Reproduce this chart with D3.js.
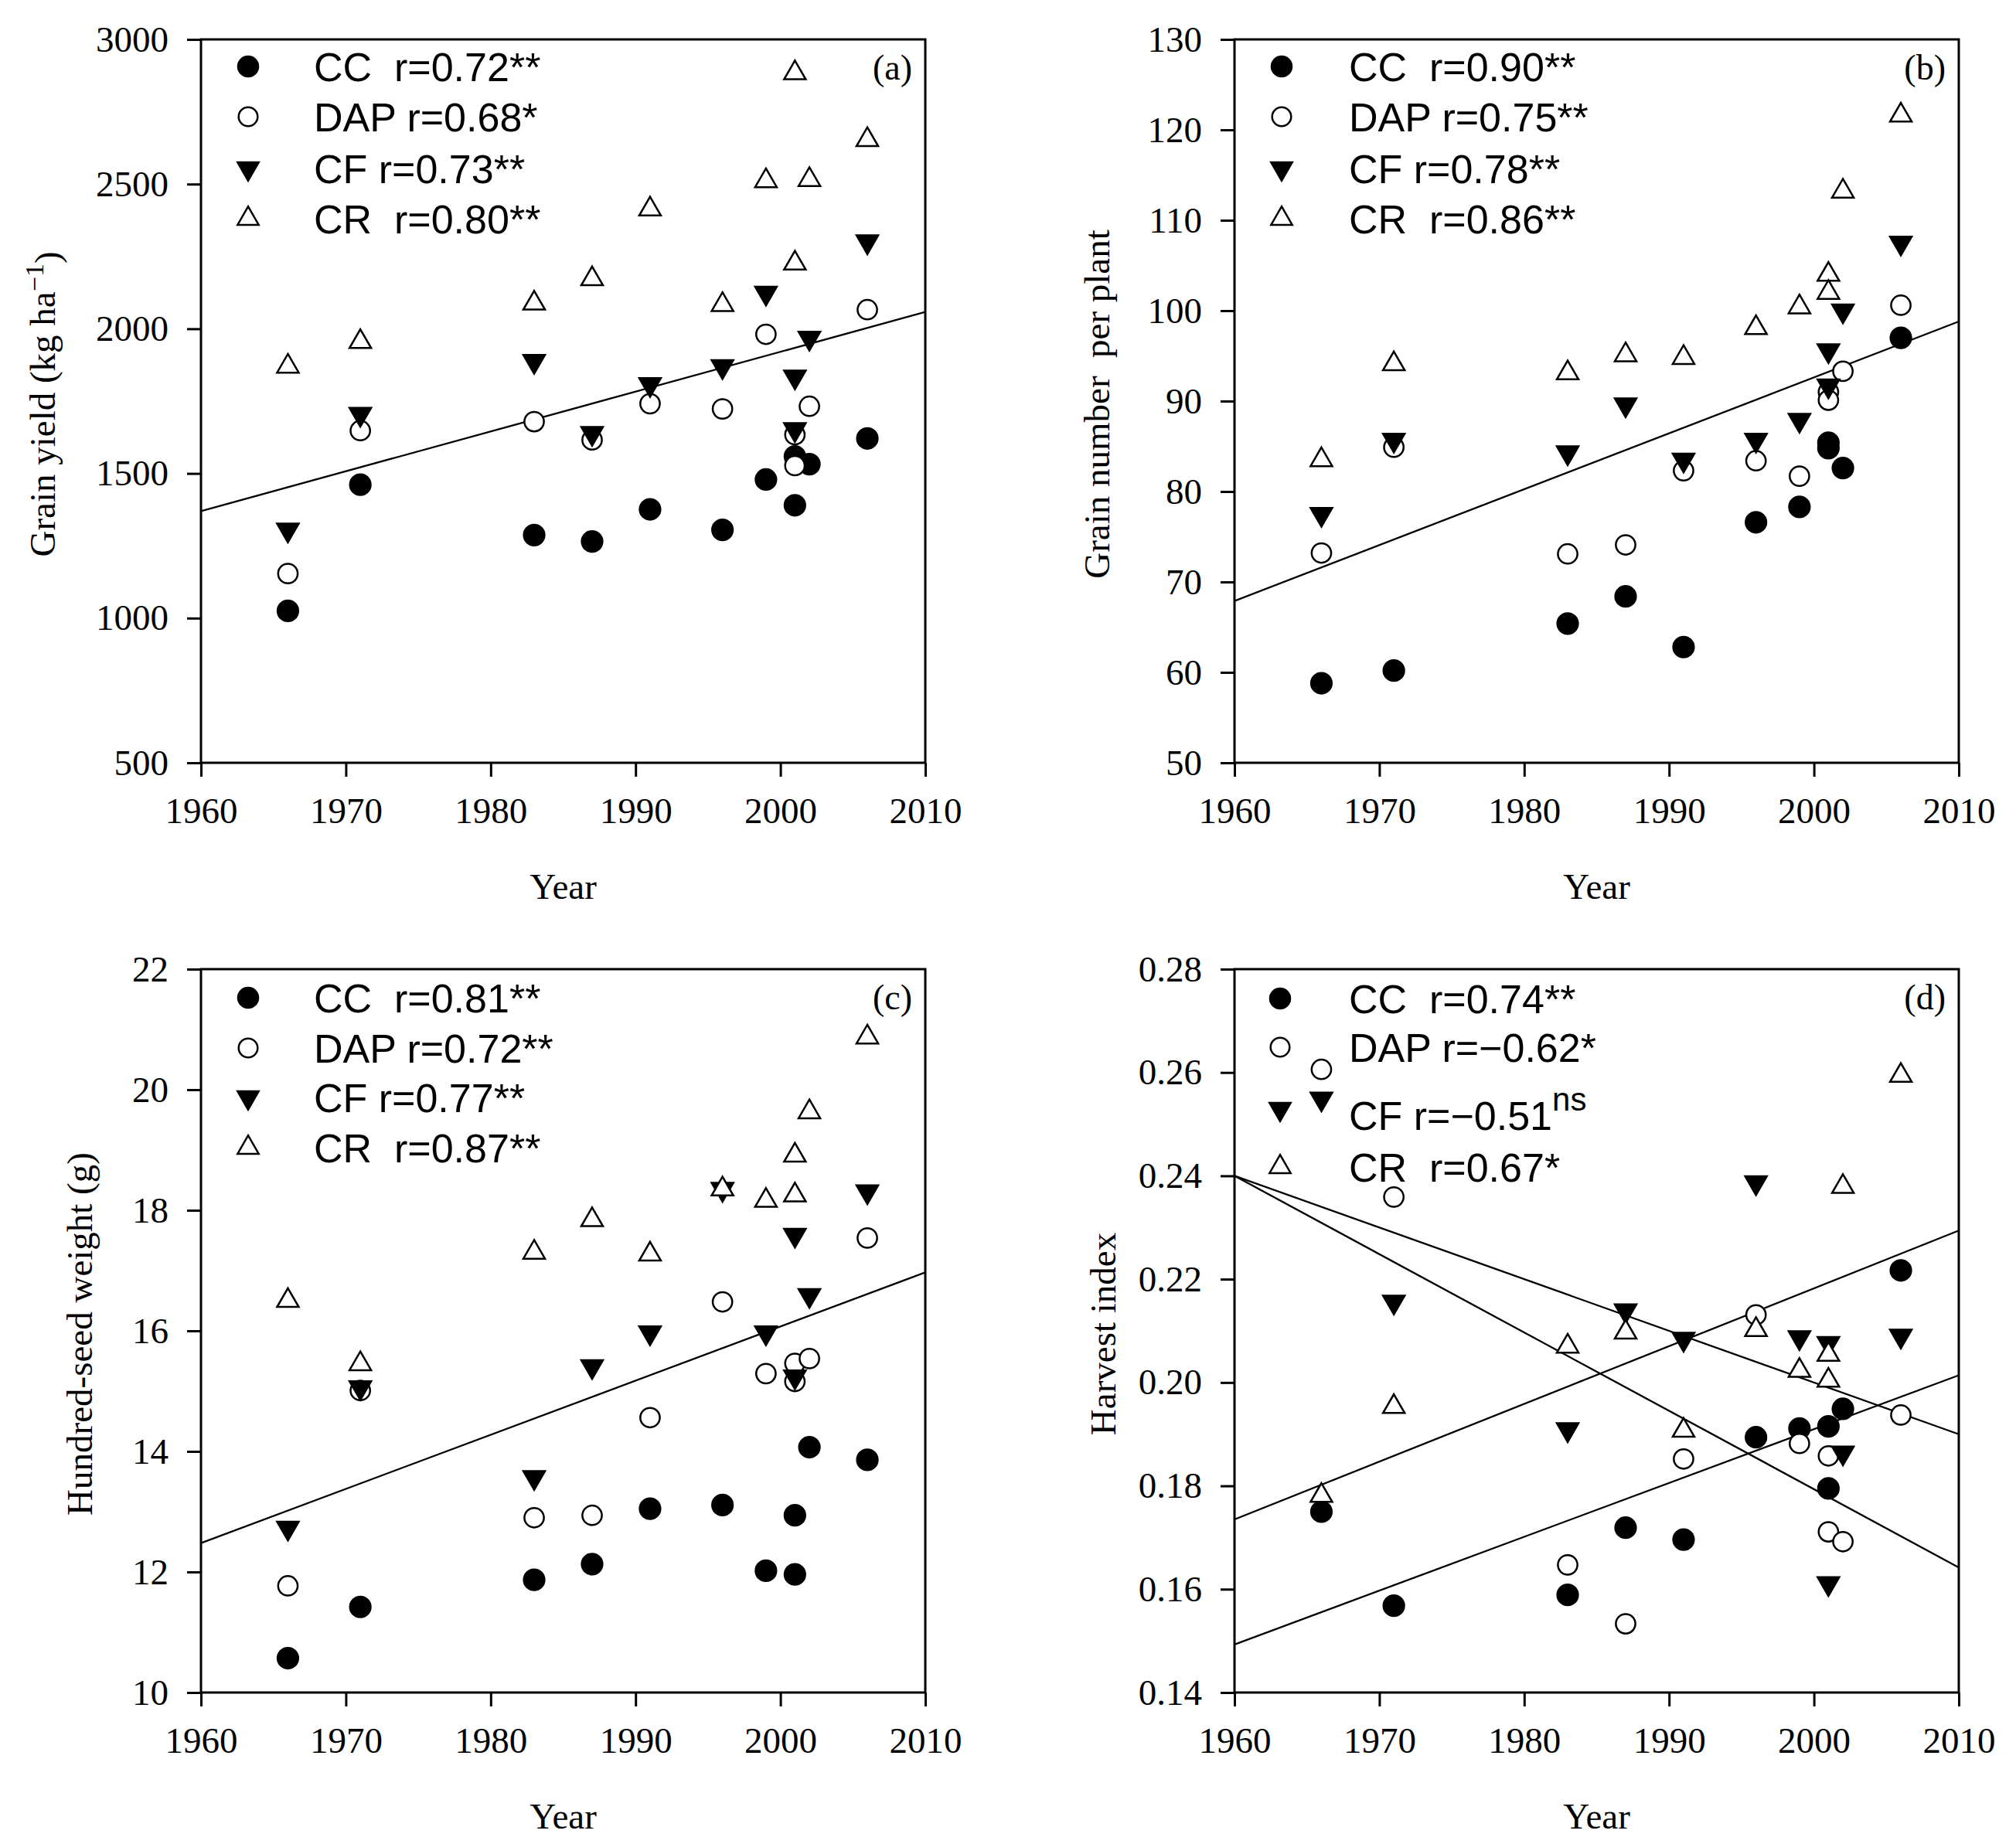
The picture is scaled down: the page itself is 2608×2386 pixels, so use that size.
<!DOCTYPE html>
<html>
<head>
<meta charset="utf-8">
<script src="https://cdn.jsdelivr.net/npm/d3@7"></script>
<style>
  body { margin: 0; background: #fff; }
  .tick text { font-family: "Liberation Serif", "Times New Roman", serif; font-size: 47px; fill: #000; }
  .tick line { stroke: #000; stroke-width: 3; }
</style>
</head>
<body>
<div class="chart"></div>
<script>
// cultivar release years (two cultivars from 2001)
const years = [1966, 1971, 1983, 1987, 1991, 1996, 1999, 2001, 2001, 2002, 2006];
const xTicks = [1960, 1970, 1980, 1990, 2000, 2010];

// (a) grain yield, kg/ha
const yieldCC  = [1025, 1461, 1287, 1265, 1376, 1305, 1479, 1559, 1390, 1532, 1621];
const yieldDAP = [1154, 1648, 1679, 1616, 1741, 1723, 1981, 1634, 1527, 1732, 2066];
const yieldCF  = [1305, 1705, 1888, 1639, 1808, 1870, 2124, 1834, 1652, 1968, 2301];
const yieldCR  = [1870, 1955, 2088, 2172, 2413, 2083, 2511, 2884, 2226, 2515, 2653];
const yieldTicks = [500, 1000, 1500, 2000, 2500, 3000];
const yieldTrend = [[1370, 2058]];
const yieldLegend = ["CC  r=0.72**", "DAP r=0.68*", "CF r=0.73**", "CR  r=0.80**"];

// (b) grain number per plant
const grainCC  = [58.8, 60.2, 65.4, 68.4, 62.8, 76.6, 78.3, 85.4, 84.8, 82.6, 97.0];
const grainDAP = [73.2, 84.9, 73.1, 74.1, 82.3, 83.4, 81.7, 91.0, 90.1, 93.3, 100.6];
const grainCF  = [77.5, 85.7, 84.3, 89.6, 83.5, 85.7, 87.9, 95.6, 91.7, 100.0, 107.5];
const grainCR  = [83.5, 94.1, 93.1, 95.1, 94.8, 98.1, 100.4, 104.0, 102.0, 113.2, 121.6];
const grainTicks = [50, 60, 70, 80, 90, 100, 110, 120, 130];
const grainTrend = [[67.9, 98.8]];
const grainLegend = ["CC  r=0.90**", "DAP r=0.75**", "CF r=0.78**", "CR  r=0.86**"];

// (c) hundred-seed weight, g
const seedCC  = [10.57, 11.42, 11.87, 12.13, 13.05, 13.11, 12.02, 12.94, 11.96, 14.07, 13.86];
const seedDAP = [11.77, 15.01, 12.90, 12.94, 14.56, 16.48, 15.29, 15.46, 15.16, 15.54, 17.54];
const seedCF  = [12.73, 15.06, 13.57, 15.41, 15.97, 18.35, 15.97, 17.59, 15.24, 16.59, 18.31];
const seedCR  = [16.50, 15.45, 17.30, 17.84, 17.27, 18.35, 18.16, 18.91, 18.25, 19.63, 20.87];
const seedTicks = [10, 12, 14, 16, 18, 20, 22];
const seedTrend = [[12.48, 16.97]];
const seedLegend = ["CC  r=0.81**", "DAP r=0.72**", "CF r=0.77**", "CR  r=0.87**"];

// (d) harvest index
const hiCC  = [0.1750, 0.1568, 0.1589, 0.1719, 0.1696, 0.1894, 0.1911, 0.1915, 0.1795, 0.1949, 0.2217];
const hiDAP = [0.2606, 0.2359, 0.1647, 0.1533, 0.1852, 0.2131, 0.1882, 0.1858, 0.1711, 0.1692, 0.1937];
const hiCF  = [0.2549, 0.2156, 0.1909, 0.2139, 0.2084, 0.2387, 0.2087, 0.2076, 0.1611, 0.1864, 0.2090];
const hiCR  = [0.1781, 0.1953, 0.2070, 0.2097, 0.1907, 0.2102, 0.2023, 0.2054, 0.2004, 0.2379, 0.2594];
const hiTicks = [0.14, 0.16, 0.18, 0.20, 0.22, 0.24, 0.26, 0.28];
// fitted lines, value at 1960 and 2010: CC, DAP, CF, CR
const hiTrend = [[0.1493, 0.2014], [0.2400, 0.1642], [0.2400, 0.1900], [0.1735, 0.2294]];
const hiLegend = ["CC  r=0.74**", "DAP r=\u22120.62*", "CF r=\u22120.51", "CR  r=0.67*"];

const W = 2608, H = 2386;
const pw = 937, ph = 936;

const svg = d3.select(".chart").append("svg")
    .attr("width", W)
    .attr("height", H)
    .style("background", "#fff");

// marker styles: CC filled circle, DAP open circle, CF filled down triangle, CR open up triangle
const markers = [
  {type: d3.symbolCircle, size: 560, fill: "#000", rot: 0},
  {type: d3.symbolCircle, size: 500, fill: "#fff", rot: 0},
  {type: d3.symbolTriangle, size: 340, fill: "#000", rot: 180},
  {type: d3.symbolTriangle, size: 340, fill: "#fff", rot: 0}
];

function drawPanel(p) {
  const g = svg.append("g").attr("transform", "translate(" + p.left + "," + p.top + ")");

  const x = d3.scaleLinear().domain([1960, 2010]).range([0, pw]);
  const y = d3.scaleLinear().domain(d3.extent(p.ticks)).range([ph, 0]);

  // axes
  const xAxis = g.append("g").attr("transform", "translate(0," + ph + ")")
      .call(d3.axisBottom(x).tickValues(xTicks).tickFormat(d3.format("d")).tickSize(18).tickPadding(27));
  const yAxis = g.append("g")
      .call(d3.axisLeft(y).tickValues(p.ticks).tickFormat(p.fmt).tickSize(18).tickPadding(24));
  xAxis.select(".domain").remove();
  yAxis.select(".domain").remove();

  g.append("rect")
    .attr("width", pw).attr("height", ph)
    .attr("fill", "none").attr("stroke", "#000").attr("stroke-width", 3);

  // regression lines
  p.trend.forEach(t => {
    g.append("line")
      .attr("x1", x(1960)).attr("y1", y(t[0]))
      .attr("x2", x(2010)).attr("y2", y(t[1]))
      .attr("stroke", "#000").attr("stroke-width", 2.3);
  });

  // points
  p.series.forEach((vals, i) => {
    const m = markers[i];
    g.selectAll(".pt" + i)
      .data(vals)
      .enter().append("path")
      .attr("class", "pt" + i)
      .attr("d", d3.symbol().type(m.type).size(m.size))
      .attr("transform", (d, j) => "translate(" + x(years[j]) + "," + y(d) + ") rotate(" + m.rot + ")")
      .attr("fill", m.fill)
      .attr("stroke", "#000")
      .attr("stroke-width", 2.5);
  });

  // legend
  const lg = g.append("g");
  p.legend.forEach((label, i) => {
    const m = markers[i];
    const ly = p.legendY[i];
    lg.append("path")
      .attr("d", d3.symbol().type(m.type).size(m.size * 0.95))
      .attr("transform", "translate(" + p.legendX[0] + "," + ly + ") rotate(" + m.rot + ")")
      .attr("fill", m.fill).attr("stroke", "#000").attr("stroke-width", 2.5);
    const t = lg.append("text")
      .attr("x", p.legendX[1])
      .attr("y", ly + (p.textShift ? p.textShift[i] : 0))
      .attr("dy", "0.36em")
      .attr("xml:space", "preserve")
      .style("font-family", "'Liberation Sans', Arial, sans-serif")
      .style("font-size", "52px")
      .text(label);
    if (p.sup && p.sup[i]) {
      t.append("tspan")
        .attr("dy", "-0.6em")
        .style("font-size", "42px")
        .text(p.sup[i]);
    }
  });

  // panel label
  g.append("text")
    .attr("x", pw - 17).attr("y", 52)
    .attr("text-anchor", "end")
    .style("font-family", "'Liberation Serif', 'Times New Roman', serif")
    .style("font-size", "46px")
    .text(p.tag);

  // axis titles
  g.append("text")
    .attr("x", pw / 2).attr("y", ph + 160)
    .attr("dy", "0.35em")
    .attr("text-anchor", "middle")
    .style("font-family", "'Liberation Serif', 'Times New Roman', serif")
    .style("font-size", "47px")
    .text("Year");

  const yt = g.append("text")
    .attr("transform", "translate(" + p.yTitleX + "," + (ph / 2 + 4) + ") rotate(-90)")
    .attr("dy", "0.35em")
    .attr("text-anchor", "middle")
    .attr("xml:space", "preserve")
    .style("font-family", "'Liberation Serif', 'Times New Roman', serif")
    .style("font-size", "47px")
    .text(p.yTitle[0]);
  if (p.yTitle.length > 1) {
    yt.append("tspan").attr("dy", "-0.45em").style("font-size", "34px").text(p.yTitle[1]);
    yt.append("tspan").attr("dy", "0.45em").text(p.yTitle[2]);
  }
}

const rowsTop = [35, 100, 167, 232];

drawPanel({
  left: 260, top: 51, tag: "(a)",
  ticks: yieldTicks, fmt: d3.format("d"),
  series: [yieldCC, yieldDAP, yieldCF, yieldCR],
  trend: yieldTrend, legend: yieldLegend,
  legendX: [61, 146], legendY: rowsTop,
  yTitle: ["Grain yield (kg ha", "\u22121", ")"], yTitleX: -205
});

drawPanel({
  left: 1597, top: 51, tag: "(b)",
  ticks: grainTicks, fmt: d3.format("d"),
  series: [grainCC, grainDAP, grainCF, grainCR],
  trend: grainTrend, legend: grainLegend,
  legendX: [61, 148], legendY: rowsTop,
  yTitle: ["Grain number  per plant"], yTitleX: -178
});

drawPanel({
  left: 260, top: 1254, tag: "(c)",
  ticks: seedTicks, fmt: d3.format("d"),
  series: [seedCC, seedDAP, seedCF, seedCR],
  trend: seedTrend, legend: seedLegend,
  legendX: [61, 146], legendY: [37, 102, 166, 231],
  yTitle: ["Hundred-seed weight (g)"], yTitleX: -157
});

drawPanel({
  left: 1597, top: 1254, tag: "(d)",
  ticks: hiTicks, fmt: d3.format(".2f"),
  series: [hiCC, hiDAP, hiCF, hiCR],
  trend: hiTrend, legend: hiLegend,
  legendX: [59, 148], legendY: [38, 101, 181, 256], textShift: [0, 0, 8, 0],
  sup: [null, null, "ns", null],
  yTitle: ["Harvest index"], yTitleX: -170
});
</script>
</body>
</html>
